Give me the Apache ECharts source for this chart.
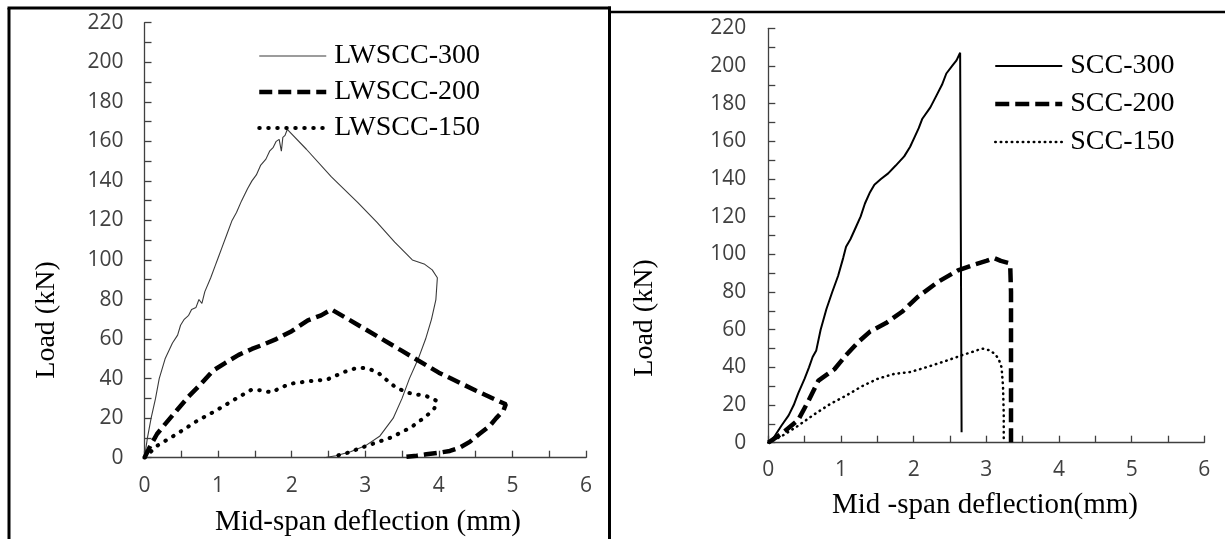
<!DOCTYPE html>
<html>
<head>
<meta charset="utf-8">
<script src="https://cdn.jsdelivr.net/npm/echarts@6/dist/echarts.min.js"></script>
<style>
html,body{margin:0;padding:0;background:#fff;}
#chart{width:1225px;height:539px;}
</style>
</head>
<body>
<div id="chart"></div>
<script>
// ---- tick labels ----
const xTickLabels = [0, 1, 2, 3, 4, 5, 6];
const yTickLabels = [0, 20, 40, 60, 80, 100, 120, 140, 160, 180, 200, 220];

// ---- left panel: LWSCC beams [deflection mm, load kN] ----
const lwscc300 = [
  [0, 0], [0.04, 10], [0.09, 20], [0.15, 30], [0.2, 40], [0.28, 50], [0.38, 58], [0.45, 62],
  [0.49, 67], [0.54, 70], [0.6, 72], [0.64, 75], [0.7, 76], [0.74, 80], [0.78, 78], [0.82, 84],
  [0.9, 91], [0.96, 97], [1.0, 101], [1.06, 107], [1.12, 113], [1.19, 120], [1.25, 124],
  [1.32, 130], [1.4, 136], [1.46, 140], [1.52, 143], [1.58, 148], [1.65, 151], [1.7, 155],
  [1.75, 157], [1.79, 160], [1.83, 161], [1.86, 155], [1.88, 162], [1.91, 163], [1.94, 166],
  [2.2, 156], [2.54, 142], [2.9, 129], [3.16, 119], [3.4, 109], [3.64, 100], [3.8, 98],
  [3.91, 95], [3.98, 91], [3.96, 80], [3.9, 70], [3.82, 60], [3.72, 50], [3.6, 40],
  [3.5, 30], [3.38, 20], [3.2, 11], [3.0, 6], [2.8, 3], [2.6, 1], [2.44, 0]
];
const lwscc200 = [
  [0, 0], [0.08, 6], [0.17, 12], [0.28, 17], [0.44, 24], [0.6, 31], [0.76, 37], [0.93, 44],
  [1.1, 48], [1.28, 52], [1.46, 55], [1.6, 57], [1.79, 60], [2.0, 64], [2.22, 69.5],
  [2.4, 72], [2.54, 75], [3.0, 65], [3.5, 54], [4.0, 43], [4.5, 34], [4.91, 27],
  [4.88, 24], [4.78, 20], [4.69, 16], [4.55, 12], [4.42, 8], [4.28, 5], [4.15, 3.4],
  [4.0, 2.5], [3.83, 1.7], [3.7, 1], [3.56, 0.5]
];
const lwscc150 = [
  [0, 0], [0.17, 6], [0.44, 12], [0.71, 18.5], [0.98, 24], [1.25, 30], [1.46, 34.5],
  [1.6, 34], [1.73, 33], [1.85, 35.5], [2.0, 37.5], [2.2, 38.5], [2.33, 39], [2.48, 39.5],
  [2.6, 41.5], [2.7, 43.2], [2.85, 45], [2.97, 45.4], [3.08, 44.5], [3.19, 42.5],
  [3.3, 39], [3.4, 36], [3.56, 33], [3.7, 32], [3.83, 31.2], [3.97, 28.8], [3.94, 25],
  [3.83, 21], [3.62, 15.3], [3.35, 10.2], [3.02, 6], [2.76, 2.5], [2.54, 0.3]
];

// ---- right panel: SCC beams [deflection mm, load kN] ----
const scc300 = [
  [0, 0], [0.08, 3], [0.18, 9], [0.28, 14.5], [0.35, 20], [0.41, 26], [0.5, 34],
  [0.56, 40], [0.61, 45.5], [0.66, 49], [0.72, 60], [0.8, 71], [0.88, 80], [0.96, 88.5],
  [1.03, 98], [1.07, 104], [1.13, 108], [1.2, 114], [1.27, 120], [1.33, 127], [1.4, 133],
  [1.46, 137], [1.55, 140], [1.65, 143], [1.75, 147], [1.87, 152], [1.95, 157],
  [2.01, 162], [2.07, 167], [2.12, 172], [2.23, 178], [2.31, 184], [2.39, 190],
  [2.45, 196], [2.53, 200], [2.59, 203], [2.64, 207], [2.66, 206], [2.66, 5.5]
];
const scc200 = [
  [0, 0], [0.19, 5], [0.41, 12], [0.55, 22], [0.69, 33], [0.8, 36], [0.91, 39],
  [1.07, 46.5], [1.24, 53.5], [1.4, 59], [1.62, 63.5], [1.84, 69.5], [2.06, 77.5],
  [2.34, 85.5], [2.61, 91.5], [2.83, 94.5], [3.0, 96.5], [3.11, 98], [3.2, 96.5],
  [3.3, 95.5], [3.33, 93], [3.34, 80], [3.34, 40], [3.34, 0]
];
const scc150 = [
  [0, 0], [0.19, 3.6], [0.41, 9], [0.63, 15], [0.85, 20.5], [1.07, 25], [1.29, 30],
  [1.51, 34], [1.73, 36.5], [1.95, 37.5], [2.17, 40], [2.45, 43.5], [2.67, 46.5],
  [2.83, 48.5], [2.94, 50], [3.05, 49], [3.12, 47], [3.17, 44.5], [3.21, 40],
  [3.23, 30], [3.24, 15], [3.24, 0]
];

const tickFont = 'Open Sans';
const serif = 'Liberation Serif';

function xAxisCfg(gridIndex, margin) {
  return {
    gridIndex: gridIndex, type: 'value', min: 0, max: 6, interval: 0.5,
    axisLine: { show: true, onZero: false, lineStyle: { color: '#404040', width: 1.3 } },
    axisTick: { show: true, inside: true, length: 7, lineStyle: { color: '#404040', width: 1.3 } },
    axisLabel: {
      margin: margin, color: '#404040', fontFamily: tickFont, fontSize: 21,
      formatter: function (v) { return xTickLabels.indexOf(v) >= 0 ? String(v) : ''; }
    },
    splitLine: { show: false }
  };
}
function yAxisCfg(gridIndex, margin) {
  return {
    gridIndex: gridIndex, type: 'value', min: 0, max: 220, interval: 10,
    axisLine: { show: true, onZero: false, lineStyle: { color: '#404040', width: 1.3 } },
    axisTick: { show: true, inside: true, length: 7, lineStyle: { color: '#404040', width: 1.3 } },
    axisLabel: {
      margin: margin, color: '#404040', fontFamily: tickFont, fontSize: 21,
      formatter: function (v) { return yTickLabels.indexOf(v) >= 0 ? String(v) : ''; }
    },
    splitLine: { show: false }
  };
}
function lineSeries(name, data, idx, style) {
  return {
    name: name, type: 'line', data: data, xAxisIndex: idx, yAxisIndex: idx,
    symbol: 'none', showSymbol: false, smooth: false, animation: false,
    lineStyle: style, itemStyle: { color: style.color }
  };
}
const legendCommon = {
  orient: 'vertical', itemWidth: 67, itemHeight: 14,
  textStyle: { fontFamily: serif, fontSize: 28, lineHeight: 30, color: '#000', padding: [0, 0, 0, 3] },
  itemStyle: { opacity: 0 },
  lineStyle: { width: 'inherit', type: 'inherit' },
  selectedMode: false
};

const chart = echarts.init(document.getElementById('chart'), null, { renderer: 'canvas' });
chart.setOption({
  backgroundColor: '#ffffff',
  animation: false,
  grid: [
    { left: 144.5, top: 22.7, width: 441.5, height: 435 },
    { left: 768.3, top: 28.3, width: 436, height: 414.4 }
  ],
  xAxis: [xAxisCfg(0, 18), xAxisCfg(1, 17)],
  yAxis: [yAxisCfg(0, 21), yAxisCfg(1, 22)],
  legend: [
    Object.assign({}, legendCommon, {
      data: ['LWSCC-300', 'LWSCC-200', 'LWSCC-150'], left: 252, top: 36, itemGap: 6
    }),
    Object.assign({}, legendCommon, {
      data: ['SCC-300', 'SCC-200', 'SCC-150'], left: 988, top: 46, itemGap: 8
    })
  ],
  series: [
    lineSeries('LWSCC-300', lwscc300, 0, { color: '#3a3a3a', width: 1.1, type: 'solid' }),
    lineSeries('LWSCC-200', lwscc200, 0, { color: '#000', width: 4.5, type: [13, 6] }),
    lineSeries('LWSCC-150', lwscc150, 0, { color: '#000', width: 4, type: [0.5, 8.5], cap: 'round' }),
    lineSeries('SCC-300', scc300, 1, { color: '#000', width: 2, type: 'solid' }),
    lineSeries('SCC-200', scc200, 1, { color: '#000', width: 4.5, type: [14, 6] }),
    lineSeries('SCC-150', scc150, 1, { color: '#000', width: 2.5, type: [0.5, 5], cap: 'round' })
  ],
  graphic: [
    { type: 'line', shape: { x1: 9, y1: 8, x2: 9, y2: 539 }, style: { stroke: '#000', lineWidth: 3 } },
    { type: 'line', shape: { x1: 7.5, y1: 8, x2: 611, y2: 8 }, style: { stroke: '#000', lineWidth: 3 } },
    { type: 'line', shape: { x1: 609.5, y1: 6.5, x2: 609.5, y2: 539 }, style: { stroke: '#000', lineWidth: 3 } },
    { type: 'line', shape: { x1: 608, y1: 12, x2: 1225, y2: 12 }, style: { stroke: '#000', lineWidth: 2.5 } },
    { type: 'text', x: 47, y: 320, rotation: Math.PI / 2,
      style: { text: 'Load (kN)', font: '28px "Liberation Serif"', fill: '#000', align: 'center', verticalAlign: 'middle' } },
    { type: 'text', x: 645, y: 318, rotation: Math.PI / 2,
      style: { text: 'Load (kN)', font: '28px "Liberation Serif"', fill: '#000', align: 'center', verticalAlign: 'middle' } },
    { type: 'text', x: 368, y: 522,
      style: { text: 'Mid-span deflection (mm)', font: '29px "Liberation Serif"', fill: '#000', align: 'center', verticalAlign: 'middle' } },
    { type: 'text', x: 985, y: 505,
      style: { text: 'Mid -span deflection(mm)', font: '29px "Liberation Serif"', fill: '#000', align: 'center', verticalAlign: 'middle' } }
  ]
});
</script>
</body>
</html>
